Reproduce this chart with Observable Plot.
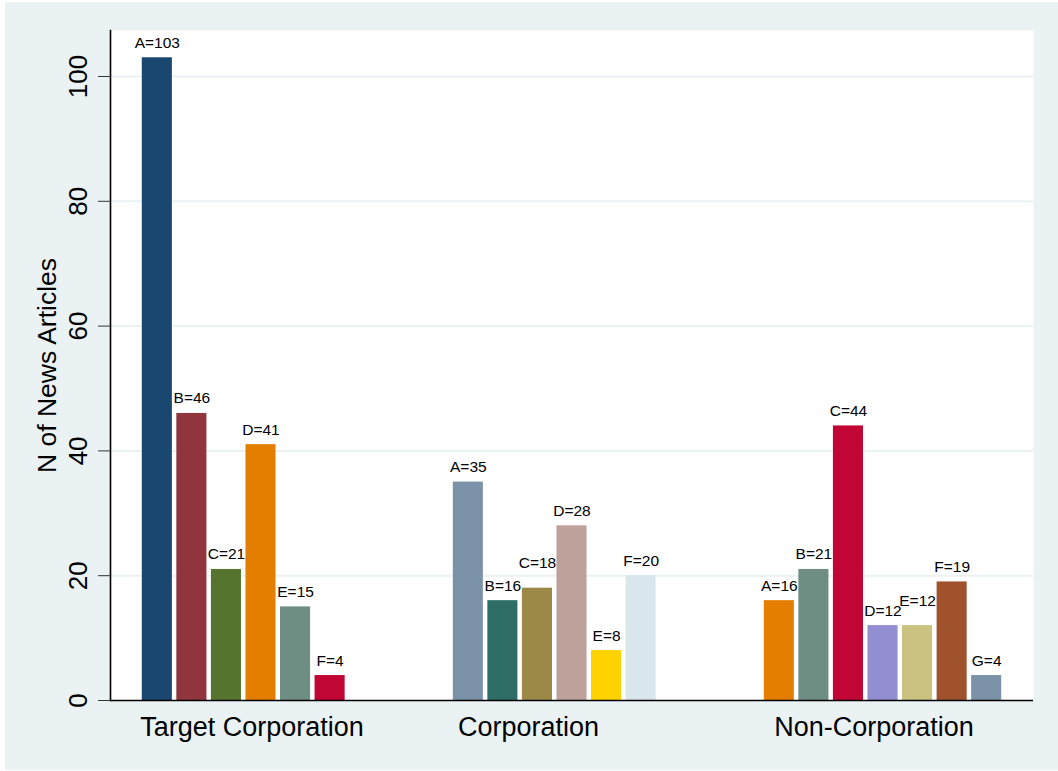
<!DOCTYPE html>
<html><head><meta charset="utf-8">
<script src="https://cdn.jsdelivr.net/npm/d3@7"></script>
<script src="https://cdn.jsdelivr.net/npm/@observablehq/plot@0.6"></script>
<style>
html,body{margin:0;padding:0;background:#ffffff;}
#chart{padding:2px 0 0 5px;}
#chart svg{display:block;}
</style></head><body><div id="chart"></div>
<script>
// ---- data ----
const groups = ["Target Corporation", "Corporation", "Non-Corporation"];
const slotLetters = ["A", "B", "C", "D", "E", "F", "G"];

const targetLetters = ["A", "B", "C", "D", "E", "F"];
const targetValues  = [103, 46, 21, 41, 15, 4];
const targetColors  = ["#1a476f", "#90353b", "#55752f", "#e37e00", "#6e8e84", "#c10534"];

const corpLetters = ["A", "B", "C", "D", "E", "F"];
const corpValues  = [35, 16, 18, 28, 8, 20];
const corpColors  = ["#7b92a8", "#2d6d66", "#9c8847", "#bfa19c", "#ffd200", "#d9e6eb"];

const nonLetters = ["A", "B", "C", "D", "E", "F", "G"];
const nonValues  = [16, 21, 44, 12, 12, 19, 4];
const nonColors  = ["#e37e00", "#6e8e84", "#c10534", "#938dd2", "#cac27e", "#a0522d", "#7b92a8"];

const yTicks = [0, 20, 40, 60, 80, 100];
const groupLabelSlot = ["D", "C", "D"];
const yTitle = "N of News Articles";

// ---- layout constants ----
const W = 1053, H = 768, mL = 105, mR = 25, mT = 28, mB = 70;
const yMax = 107.37;
const pxPerUnit = (H - mT - mB) / yMax;

// ---- build table ----
const series = [
  [targetLetters, targetValues, targetColors],
  [corpLetters, corpValues, corpColors],
  [nonLetters, nonValues, nonColors]
];
const rows = [];
series.forEach(([letters, values, colors], gi) => {
  let prevBase = null;
  letters.forEach((l, i) => {
    // label height in pixels; lift it when it would collide with the previous label
    let base = values[i] * pxPerUnit;
    if (prevBase !== null && Math.abs(base - prevBase) < 14) base += 10;
    prevBase = base;
    rows.push({
      group: groups[gi], letter: l, value: values[i], color: colors[i],
      key: groups[gi] + "|" + l, labelY: base / pxPerUnit
    });
  });
});

// x domain: 7 slots per group, 2 spacer slots between groups
const xDomain = [];
groups.forEach((g, gi) => {
  slotLetters.forEach(l => xDomain.push(g + "|" + l));
  if (gi < groups.length - 1) { xDomain.push("gap" + gi + "a"); xDomain.push("gap" + gi + "b"); }
});
const labelKeys = groups.map((g, gi) => g + "|" + groupLabelSlot[gi]);
const keyToGroup = new Map(labelKeys.map((k, i) => [k, groups[i]]));

const font = "'Liberation Sans', Arial, Helvetica, sans-serif";

const chart = Plot.plot({
  width: W,
  height: H,
  marginLeft: mL,
  marginRight: mR,
  marginTop: mT,
  marginBottom: mB,
  style: {background: "#eaf2f3", fontFamily: font, color: "black"},
  x: {type: "band", domain: xDomain, paddingInner: 0.13, paddingOuter: 0.92, align: 0.5, round: false},
  y: {domain: [0, yMax]},
  color: {type: "identity"},
  marks: [
    Plot.frame({fill: "white", stroke: null}),
    Plot.ruleY(yTicks.filter(d => d > 0), {stroke: "#eaf2f3", strokeWidth: 2}),
    Plot.barY(rows, {x: "key", y: "value", fill: "color"}),
    Plot.text(rows, {x: "key", y: "labelY", text: d => `${d.letter}=${d.value}`, dy: -10, lineAnchor: "bottom", fontSize: 15.5, fill: "black"}),
    Plot.ruleY([0], {stroke: "black", strokeWidth: 1.6}),
    Plot.frame({anchor: "left", stroke: "black", strokeWidth: 1.6}),
    Plot.axisY({ticks: yTicks, tickSize: 12, tickFormat: () => "", label: null, stroke: "#333"}),
    Plot.text(yTicks, {y: d => d, text: d => String(d), frameAnchor: "left", rotate: -90, dx: -32, lineAnchor: "middle", textAnchor: "middle", fontSize: 26, fill: "black"}),
    Plot.text([yTitle], {frameAnchor: "left", rotate: -90, dx: -63, lineAnchor: "middle", textAnchor: "middle", fontSize: 26.5, fill: "black"}),
    Plot.axisX({ticks: labelKeys, tickFormat: k => keyToGroup.get(k), tickSize: 0, tickPadding: 16, fontSize: 27, dx: -9, label: null, fill: "black"})
  ]
});
document.getElementById("chart").appendChild(chart);
</script>
</body></html>
